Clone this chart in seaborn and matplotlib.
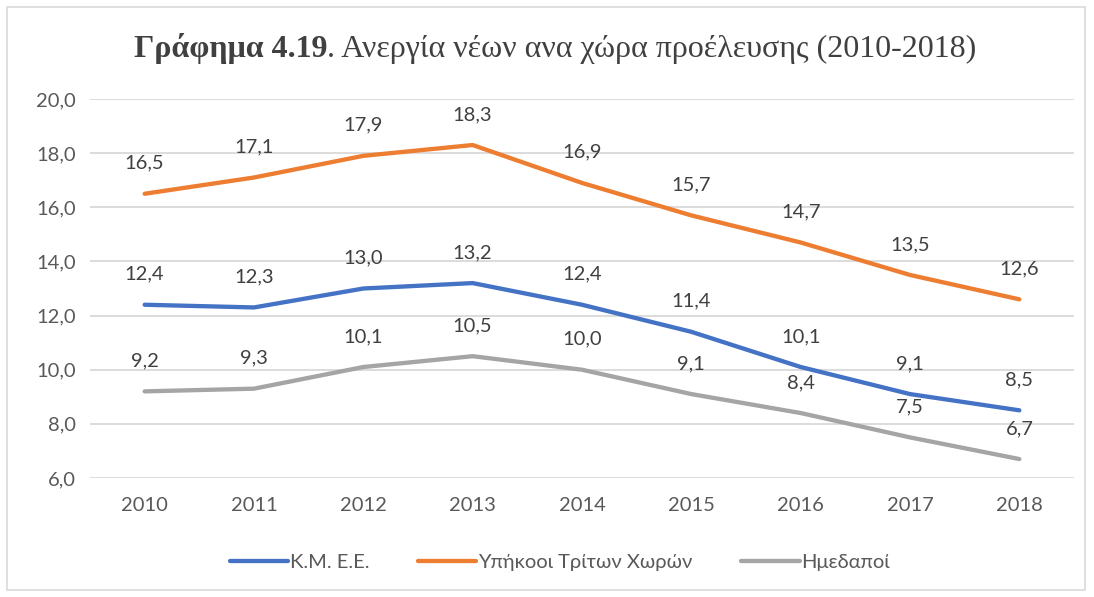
import matplotlib
matplotlib.use("Agg")
import matplotlib.pyplot as plt
from matplotlib.patches import Rectangle
import seaborn as sns
import pandas as pd

# data
years = ['2010', '2011', '2012', '2013', '2014', '2015', '2016', '2017', '2018']
kmee = [12.4, 12.3, 13.0, 13.2, 12.4, 11.4, 10.1, 9.1, 8.5]
third = [16.5, 17.1, 17.9, 18.3, 16.9, 15.7, 14.7, 13.5, 12.6]
natives = [9.2, 9.3, 10.1, 10.5, 10.0, 9.1, 8.4, 7.5, 6.7]
series_names = ['Κ.Μ. Ε.Ε.', 'Υπήκοοι Τρίτων Χωρών', 'Ημεδαποί']
yticks = [6.0, 8.0, 10.0, 12.0, 14.0, 16.0, 18.0, 20.0]

colors = {'Κ.Μ. Ε.Ε.': '#4472C4', 'Υπήκοοι Τρίτων Χωρών': '#ED7D31', 'Ημεδαποί': '#A5A5A5'}

df = pd.DataFrame({
    'pos': list(range(len(years))) * 3,
    'value': kmee + third + natives,
    'series': [series_names[0]] * 9 + [series_names[1]] * 9 + [series_names[2]] * 9,
})

sns.set_style('white')
plt.rcParams['font.family'] = ['Lato', 'DejaVu Sans']

fig = plt.figure(figsize=(10.94, 5.97), dpi=100)
ax = fig.add_axes([90 / 1094, 1 - 478 / 597, (1074 - 90) / 1094, (478 - 99) / 597])

sns.lineplot(data=df, x='pos', y='value', hue='series', palette=colors,
             hue_order=series_names, linewidth=3.1, ax=ax, legend=False,
             solid_capstyle='round')

# value labels above each point
for name, vals in zip(series_names, [kmee, third, natives]):
    for i, v in enumerate(vals):
        ax.annotate(f'{v:.1f}'.replace('.', ','), (i, v), xytext=(0, 22),
                    textcoords='offset points', ha='center', va='center',
                    fontsize=14.5, color='#404040')

ax.set_xlim(-0.5, len(years) - 0.5)
ax.set_ylim(6, 20)
ax.set_xticks(range(len(years)))
ax.set_xticklabels(years)
ax.set_yticks(yticks)
ax.set_yticklabels([f'{t:.1f}'.replace('.', ',') for t in yticks])
ax.tick_params(axis='both', labelsize=14.5, labelcolor='#595959', length=0)
ax.tick_params(axis='x', pad=14)
ax.tick_params(axis='y', pad=10)
ax.set_xlabel('')
ax.set_ylabel('')
ax.yaxis.grid(True, color='#D9D9D9', linewidth=1.3)
ax.set_axisbelow(True)
for s in ax.spines.values():
    s.set_visible(False)

# title: bold first part, regular rest
t1 = 'Γράφημα 4.19'
t2 = '. Ανεργία νέων ανα χώρα προέλευσης (2010-2018)'
tb = fig.text(0, 0, t1, fontsize=23, family='Liberation Serif', weight='bold',
              color='#404040', va='center')
tr = fig.text(0, 0, t2, fontsize=23, family='Liberation Serif',
              color='#404040', va='center')
fig.canvas.draw()
r = fig.canvas.get_renderer()
wb = tb.get_window_extent(r).width
wr = tr.get_window_extent(r).width
x0 = (555 - (wb + wr) / 2) / 1094
tb.set_position((x0, 1 - 49 / 597))
tr.set_position((x0 + wb / 1094, 1 - 49 / 597))

# legend
handles = [plt.Line2D([], [], color=colors[n], linewidth=3.1, solid_capstyle='round') for n in series_names]
fig.legend(handles, series_names, loc='center', bbox_to_anchor=(560 / 1094, 1 - 562 / 597),
           ncol=3, frameon=False, fontsize=14.5, labelcolor='#595959',
           handlelength=2.9, handletextpad=0.1, columnspacing=2.4)

# chart border
fig.patches.append(Rectangle((7 / 1094, 7 / 597), 1078 / 1094, 583 / 597, transform=fig.transFigure,
                             fill=False, edgecolor='#D9D9D9', linewidth=1.2))

fig.savefig('out.png', dpi=100)
